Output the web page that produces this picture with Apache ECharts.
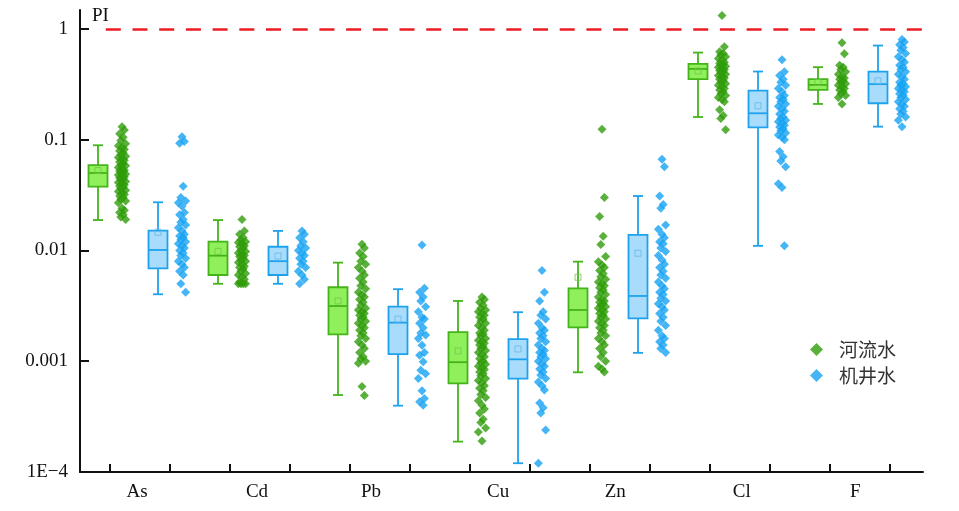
<!DOCTYPE html>
<html>
<head>
<meta charset="utf-8">
<script src="https://cdn.jsdelivr.net/npm/echarts@6/dist/echarts.min.js"></script>
<style>
  html, body { margin: 0; padding: 0; background: #fff; }
  #chart { width: 959px; height: 511px; }
</style>
</head>
<body>
<div id="chart"></div>
<script>
// 元素名称
const elements = ['As', 'Cd', 'Pb', 'Cu', 'Zn', 'Cl', 'F'];
const elementLabelPos = [1.45, 3.45, 5.35, 7.47, 9.42, 11.53, 13.42];
const yTicks = [0.0001, 0.001, 0.01, 0.1, 1];
const yTickText = ['1E\u22124', '0.001', '0.01', '0.1', '1'];

// 箱线图: [min, Q1, median, Q3, max]
const riverBox = [
    [0.0188, 0.0377, 0.050, 0.059, 0.089],
    [0.005, 0.006, 0.00897, 0.012, 0.0188],
    [0.000495, 0.00175, 0.00315, 0.00465, 0.00776],
    [0.000188, 0.000632, 0.00098, 0.00183, 0.0035],
    [0.000794, 0.00202, 0.0029, 0.00455, 0.00792],
    [0.160, 0.352, 0.435, 0.483, 0.611],
    [0.210, 0.281, 0.312, 0.352, 0.451]
];
const wellBox = [
    [0.00402, 0.0069, 0.0101, 0.0151, 0.0272],
    [0.005, 0.006, 0.008, 0.0108, 0.015],
    [0.000397, 0.00116, 0.00223, 0.00311, 0.00447],
    [0.00012, 0.000697, 0.00104, 0.00158, 0.00277],
    [0.00119, 0.00244, 0.00388, 0.0138, 0.031],
    [0.011, 0.129, 0.173, 0.277, 0.412],
    [0.131, 0.213, 0.317, 0.412, 0.707]
];
const riverMean = [0.0526, 0.0098, 0.0035, 0.00124, 0.00573, 0.417, 0.328];
const wellMean = [0.0146, 0.0089, 0.0024, 0.00129, 0.00944, 0.202, 0.339];

// 河流水样点
const riverAs = [0.131, 0.122, 0.113, 0.105, 0.098, 0.092, 0.088, 0.085, 0.082, 0.079, 0.076, 0.073, 0.071, 0.069, 0.067, 0.065, 0.063, 0.061, 0.059, 0.058, 0.056, 0.055, 0.053, 0.052, 0.051, 0.050, 0.049, 0.048, 0.047, 0.046, 0.045, 0.044, 0.043, 0.042, 0.041, 0.040, 0.039, 0.038, 0.037, 0.036, 0.035, 0.034, 0.033, 0.032, 0.031, 0.030, 0.029, 0.028, 0.027, 0.024, 0.023, 0.022, 0.021, 0.020, 0.019];
const riverCd = [0.019, 0.015, 0.014, 0.013, 0.0125, 0.012, 0.0118, 0.0115, 0.011, 0.0108, 0.0105, 0.010, 0.0098, 0.0095, 0.0092, 0.009, 0.0088, 0.0085, 0.0082, 0.008, 0.0078, 0.0075, 0.0072, 0.007, 0.0068, 0.0065, 0.0062, 0.006, 0.0058, 0.0055, 0.0052, 0.005, 0.005, 0.005, 0.005];
const riverPb = [0.0114, 0.0105, 0.0095, 0.0088, 0.008, 0.0075, 0.007, 0.0065, 0.006, 0.0056, 0.0052, 0.0048, 0.0045, 0.0042, 0.004, 0.0038, 0.0036, 0.0034, 0.0032, 0.003, 0.0029, 0.0028, 0.0027, 0.0026, 0.0025, 0.0024, 0.0023, 0.0022, 0.0021, 0.002, 0.0019, 0.0018, 0.0017, 0.0016, 0.0015, 0.0014, 0.0013, 0.0012, 0.0011, 0.00105, 0.001, 0.00096, 0.00059, 0.00049];
const riverCu = [0.0038, 0.0036, 0.0034, 0.0032, 0.003, 0.0029, 0.0028, 0.0027, 0.0026, 0.0025, 0.0024, 0.0023, 0.0022, 0.0021, 0.002, 0.0019, 0.0018, 0.00175, 0.0017, 0.0016, 0.00155, 0.0015, 0.00145, 0.0014, 0.00135, 0.0013, 0.00125, 0.0012, 0.00115, 0.0011, 0.00105, 0.001, 0.00097, 0.00094, 0.0009, 0.00087, 0.00084, 0.0008, 0.00077, 0.00074, 0.0007, 0.00067, 0.00064, 0.0006, 0.00057, 0.00054, 0.0005, 0.00047, 0.00044, 0.0004, 0.00037, 0.00034, 0.0003, 0.00028, 0.00025, 0.00023, 0.00019];
const riverZn = [0.124, 0.030, 0.0202, 0.0134, 0.0113, 0.0088, 0.0079, 0.0074, 0.007, 0.0066, 0.0062, 0.0058, 0.0055, 0.0052, 0.005, 0.0048, 0.0046, 0.0044, 0.0042, 0.004, 0.0038, 0.0036, 0.0035, 0.0034, 0.0033, 0.0032, 0.0031, 0.003, 0.0029, 0.0028, 0.0027, 0.0026, 0.0025, 0.0024, 0.0023, 0.0022, 0.0021, 0.002, 0.0019, 0.0018, 0.0017, 0.0016, 0.0015, 0.0014, 0.0013, 0.0012, 0.0011, 0.001, 0.0009, 0.00085, 0.0008];
const riverCl = [1.32, 0.69, 0.62, 0.6, 0.58, 0.56, 0.54, 0.52, 0.5, 0.49, 0.48, 0.47, 0.46, 0.45, 0.44, 0.43, 0.42, 0.41, 0.4, 0.39, 0.38, 0.37, 0.36, 0.35, 0.34, 0.33, 0.32, 0.31, 0.3, 0.29, 0.28, 0.27, 0.26, 0.25, 0.24, 0.23, 0.22, 0.186, 0.165, 0.155, 0.123];
const riverF = [0.75, 0.595, 0.47, 0.45, 0.43, 0.41, 0.39, 0.37, 0.36, 0.35, 0.34, 0.33, 0.32, 0.31, 0.3, 0.29, 0.28, 0.27, 0.26, 0.25, 0.24, 0.21];

// 机井水样点
const wellAs = [0.106, 0.096, 0.093, 0.038, 0.030, 0.028, 0.027, 0.025, 0.022, 0.021, 0.019, 0.018, 0.017, 0.016, 0.015, 0.014, 0.0135, 0.013, 0.0125, 0.012, 0.0115, 0.011, 0.0105, 0.010, 0.0095, 0.009, 0.0085, 0.008, 0.0075, 0.007, 0.0065, 0.006, 0.005, 0.0042];
const wellCd = [0.015, 0.014, 0.013, 0.012, 0.011, 0.0105, 0.010, 0.0095, 0.009, 0.0085, 0.008, 0.0075, 0.007, 0.0065, 0.006, 0.0055, 0.005];
const wellPb = [0.0112, 0.00455, 0.0042, 0.0038, 0.0035, 0.0031, 0.0028, 0.0025, 0.0024, 0.0022, 0.002, 0.0018, 0.00172, 0.0016, 0.00139, 0.0012, 0.00113, 0.00099, 0.00083, 0.00077, 0.0007, 0.00054, 0.00046, 0.00043, 0.0004];
const wellCu = [0.0066, 0.0042, 0.0035, 0.0028, 0.0026, 0.0024, 0.0022, 0.002, 0.0019, 0.0018, 0.0017, 0.0016, 0.0015, 0.0014, 0.0013, 0.00125, 0.0012, 0.00115, 0.0011, 0.00105, 0.001, 0.00095, 0.0009, 0.00085, 0.0008, 0.00075, 0.0007, 0.00065, 0.0006, 0.00055, 0.00042, 0.00038, 0.00034, 0.00024, 0.00012];
const wellZn = [0.0666, 0.057, 0.031, 0.026, 0.024, 0.017, 0.0155, 0.014, 0.013, 0.012, 0.0115, 0.0105, 0.0098, 0.009, 0.0082, 0.0075, 0.007, 0.0065, 0.006, 0.0056, 0.0052, 0.0048, 0.0045, 0.0042, 0.004, 0.0037, 0.0035, 0.0033, 0.0031, 0.0029, 0.0027, 0.0025, 0.0023, 0.0021, 0.0019, 0.0017, 0.0016, 0.0015, 0.0014, 0.0013, 0.0012];
const wellCl = [0.525, 0.41, 0.38, 0.35, 0.33, 0.31, 0.29, 0.27, 0.25, 0.24, 0.23, 0.22, 0.21, 0.2, 0.19, 0.18, 0.17, 0.16, 0.155, 0.15, 0.145, 0.14, 0.135, 0.13, 0.125, 0.12, 0.115, 0.11, 0.105, 0.1, 0.078, 0.07, 0.064, 0.057, 0.04, 0.037, 0.011];
const wellF = [0.8, 0.76, 0.72, 0.68, 0.64, 0.6, 0.56, 0.53, 0.5, 0.47, 0.45, 0.43, 0.41, 0.39, 0.37, 0.35, 0.33, 0.32, 0.31, 0.3, 0.29, 0.28, 0.27, 0.26, 0.25, 0.24, 0.23, 0.22, 0.21, 0.2, 0.19, 0.18, 0.17, 0.16, 0.15, 0.131];

const riverPoints = [riverAs, riverCd, riverPb, riverCu, riverZn, riverCl, riverF];
const wellPoints = [wellAs, wellCd, wellPb, wellCu, wellZn, wellCl, wellF];

// 水平抖动 (固定样式)
const jitter = [0, 0.04, -0.04, 0.02, -0.02, 0.06, -0.06];

const greenDot = '#2f9c0a';
const greenLine = '#44b419';
const greenFill = '#8ff05c';
const blueDot = '#16a2f2';
const blueLine = '#1ea2ee';
const blueFill = '#a8dcfa';
const palette = [
    { stroke: greenLine, fill: greenFill },
    { stroke: blueLine, fill: blueFill }
];

const boxData = [];
const meanRiver = [];
const meanWell = [];
const riverScatter = [];
const wellScatter = [];

elements.forEach((el, i) => {
    const tR = 2 * i + 1;
    const tW = 2 * i + 2;
    boxData.push([tR - 0.2].concat(riverBox[i], [0]));
    boxData.push([tW - 0.2].concat(wellBox[i], [1]));
    meanRiver.push([tR - 0.2, riverMean[i]]);
    meanWell.push([tW - 0.2, wellMean[i]]);
    riverPoints[i].forEach((v, j) => riverScatter.push([tR + 0.2 + jitter[j % jitter.length], v]));
    wellPoints[i].forEach((v, j) => wellScatter.push([tW + 0.2 + jitter[j % jitter.length], v]));
});

const tickPositions = [];
for (let k = 1; k <= 14; k++) tickPositions.push(k);

const serif = 'Liberation Serif';

function renderBox(params, api) {
    const x = api.value(0);
    const pMin = api.coord([x, api.value(1)]);
    const pQ1 = api.coord([x, api.value(2)]);
    const pMed = api.coord([x, api.value(3)]);
    const pQ3 = api.coord([x, api.value(4)]);
    const pMax = api.coord([x, api.value(5)]);
    const c = palette[api.value(6)];
    const half = 9.5;
    const cap = 5;
    const cx = pMed[0];
    const lineStyle = { stroke: c.stroke, lineWidth: 1.8 };
    return {
        type: 'group',
        children: [
            { type: 'line', shape: { x1: cx, y1: pMax[1], x2: cx, y2: pQ3[1] }, style: lineStyle },
            { type: 'line', shape: { x1: cx, y1: pQ1[1], x2: cx, y2: pMin[1] }, style: lineStyle },
            { type: 'line', shape: { x1: cx - cap, y1: pMax[1], x2: cx + cap, y2: pMax[1] }, style: lineStyle },
            { type: 'line', shape: { x1: cx - cap, y1: pMin[1], x2: cx + cap, y2: pMin[1] }, style: lineStyle },
            {
                type: 'rect',
                shape: { x: cx - half, y: pQ3[1], width: half * 2, height: pQ1[1] - pQ3[1] },
                style: { fill: c.fill, stroke: c.stroke, lineWidth: 1.8 }
            },
            { type: 'line', shape: { x1: cx - half, y1: pMed[1], x2: cx + half, y2: pMed[1] }, style: lineStyle }
        ]
    };
}

const chart = echarts.init(document.getElementById('chart'));
chart.setOption({
    animation: false,
    backgroundColor: '#fff',
    grid: { left: 80, right: 36, top: 10, bottom: 39, containLabel: false },
    legend: {
        orient: 'vertical',
        left: 805,
        top: 335,
        itemWidth: 13,
        itemHeight: 13,
        itemGap: 7,
        icon: 'diamond',
        data: ['河流水', '机井水'],
        textStyle: { fontFamily: 'Noto Sans CJK SC', fontSize: 19, color: '#333', padding: [0, 0, 0, 11] }
    },
    graphic: [{
        type: 'text',
        left: 92,
        top: 7,
        style: { text: 'PI', font: '19px "Liberation Serif"', fill: '#111' }
    }],
    xAxis: {
        type: 'value',
        min: 0.5,
        max: 14.55,
        splitLine: { show: false },
        axisLine: { lineStyle: { color: '#111', width: 2 } },
        axisTick: { inside: true, length: 8, customValues: tickPositions, lineStyle: { color: '#111', width: 2 } },
        axisLabel: {
            customValues: elementLabelPos,
            margin: 11,
            fontFamily: serif,
            fontSize: 19,
            color: '#111',
            formatter: v => {
                const idx = elementLabelPos.findIndex(p => Math.abs(p - v) < 1e-6);
                return idx >= 0 ? elements[idx] : '';
            }
        }
    },
    yAxis: {
        type: 'log',
        logBase: 10,
        min: 0.0001,
        max: 1.48,
        splitLine: { show: false },
        axisLine: { show: true, lineStyle: { color: '#111', width: 2 } },
        axisTick: { show: true, inside: true, length: 9, customValues: yTicks, lineStyle: { color: '#111', width: 2 } },
        axisLabel: {
            customValues: yTicks,
            margin: 12,
            fontFamily: serif,
            fontSize: 19,
            color: '#111',
            formatter: v => {
                const idx = yTicks.findIndex(p => Math.abs(Math.log10(p) - Math.log10(v)) < 1e-6);
                return idx >= 0 ? yTickText[idx] : '';
            }
        }
    },
    series: [
        {
            type: 'custom',
            name: 'box',
            renderItem: renderBox,
            encode: { x: 0, y: [1, 2, 3, 4, 5] },
            data: boxData,
            z: 2
        },
        {
            type: 'scatter',
            name: 'meanRiver',
            symbol: 'rect',
            symbolSize: 6,
            itemStyle: { color: 'rgba(0,0,0,0)', borderColor: '#72c64a', borderWidth: 1 },
            data: meanRiver,
            z: 5,
            markLine: {
                silent: true,
                symbol: 'none',
                label: { show: false },
                lineStyle: { color: '#ec1c24', width: 2.6, type: [15, 11.7] },
                data: [[{ coord: [0.93, 1] }, { coord: [14.55, 1] }]]
            }
        },
        {
            type: 'scatter',
            name: 'meanWell',
            symbol: 'rect',
            symbolSize: 6,
            itemStyle: { color: 'rgba(0,0,0,0)', borderColor: '#62b8ec', borderWidth: 1 },
            data: meanWell,
            z: 5
        },
        {
            type: 'scatter',
            name: '河流水',
            symbol: 'diamond',
            symbolSize: 9,
            itemStyle: { color: greenDot },
            data: riverScatter
        },
        {
            type: 'scatter',
            name: '机井水',
            symbol: 'diamond',
            symbolSize: 9,
            itemStyle: { color: blueDot },
            data: wellScatter
        }
    ]
});
</script>
</body>
</html>
